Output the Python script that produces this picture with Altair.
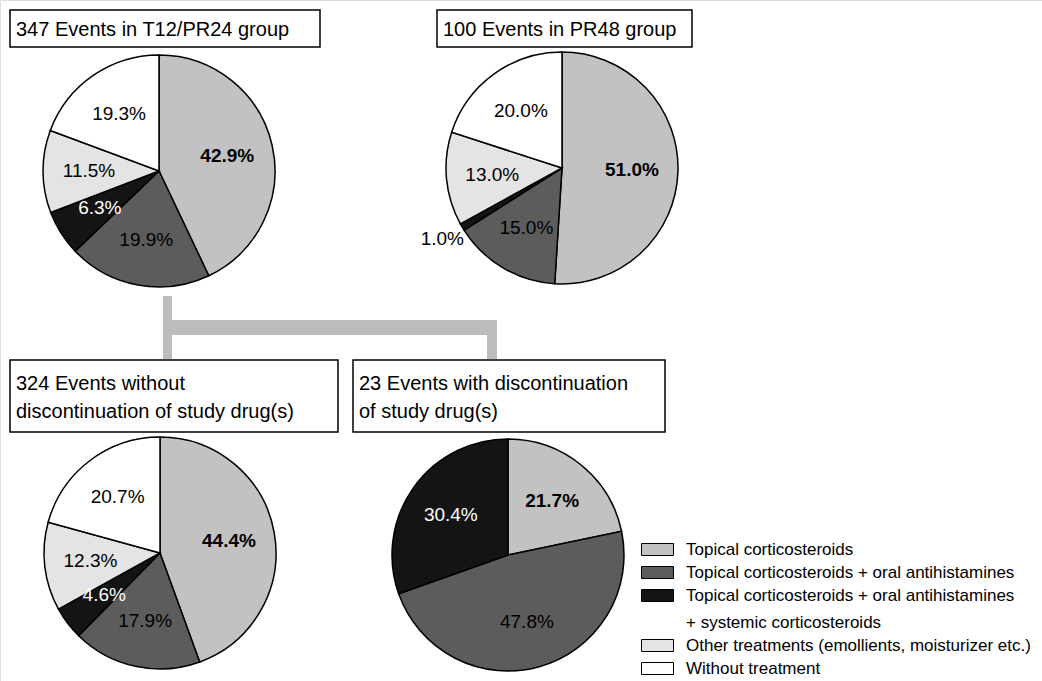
import altair as alt
import pandas as pd

# Treatment categories, in the order slices are drawn clockwise from 12 o'clock
CATEGORIES = [
    "Topical corticosteroids",
    "Topical corticosteroids + oral antihistamines",
    "Topical corticosteroids + oral antihistamines + systemic corticosteroids",
    "Other treatments (emollients, moisturizer etc.)",
    "Without treatment",
]
COLORS = ["#c2c2c2", "#5c5c5c", "#141414", "#e4e4e4", "#ffffff"]

# Share of events (%) per treatment category; None = category absent
T12_PR24 = [42.9, 19.9, 6.3, 11.5, 19.3]
PR48 = [51.0, 15.0, 1.0, 13.0, 20.0]
NO_DISCONTINUATION = [44.4, 17.9, 4.6, 12.3, 20.7]
DISCONTINUATION = [21.7, 47.8, 30.4, None, None]

TITLE_T12 = ["347 Events in T12/PR24 group"]
TITLE_PR48 = ["100 Events in PR48 group"]
TITLE_NO_DISC = ["324 Events without", "discontinuation of study drug(s)"]
TITLE_DISC = ["23 Events with discontinuation", "of study drug(s)"]

FONT = "Liberation Sans"
R = 116          # pie radius
LABEL_R = 70     # radius of in-slice labels
OUTER_LABEL_R = 139

color_scale = alt.Scale(domain=CATEGORIES, range=COLORS)
# Wide rectangular swatch: the path reaches past the unit box so the
# nominal symbol size (and so the row height) stays small.
legend = alt.Legend(
    orient="none", legendX=649, legendY=541, title=None, padding=0,
    symbolType="M-2.667,-1H2.667V1H-2.667Z", symbolSize=144,
    symbolStrokeColor="black", symbolStrokeWidth=1, symbolOpacity=1,
    labelFont=FONT, labelFontSize=17, labelColor="black", labelOffset=20,
    labelLimit=600, rowPadding=5,
    labelExpr="split(replace(datum.label, ' + systemic', '|\u00a0+ systemic'), '|')",
)

blank = alt.Data(values=[{}])


def pie(values, cx, cy):
    df = pd.DataFrame({"treatment": CATEGORIES, "rank": range(len(CATEGORIES)), "pct": values})
    df = df.dropna()
    base = alt.Chart(df).transform_calculate(
        label="format(datum.pct, '.1f') + '%'"
    ).encode(
        theta=alt.Theta("pct:Q", stack=True),
        order=alt.Order("rank:Q"),
        x=alt.value(cx),
        y=alt.value(cy),
    )
    arcs = base.mark_arc(outerRadius=R, stroke="black", strokeWidth=1.5).encode(
        color=alt.Color("treatment:N", scale=color_scale, legend=legend)
    )
    ink = alt.condition("datum.rank == 2", alt.value("white"), alt.value("black"))
    inner = base.mark_text(radius=LABEL_R, fontSize=19, font=FONT).encode(
        text="label:N", color=ink,
        opacity=alt.condition("datum.pct >= 2 && datum.rank != 0", alt.value(1), alt.value(0)),
    )
    inner_bold = base.mark_text(radius=LABEL_R, fontSize=19, font=FONT, fontWeight="bold").encode(
        text="label:N", color=ink,
        opacity=alt.condition("datum.rank == 0", alt.value(1), alt.value(0)),
    )
    outer = base.mark_text(radius=OUTER_LABEL_R, fontSize=19, font=FONT).encode(
        text="label:N", color=alt.value("black"),
        opacity=alt.condition("datum.pct < 2", alt.value(1), alt.value(0)),
    )
    return [arcs, inner, inner_bold, outer]


def title_box(lines, x0, x1, y0, y1, baseline_y):
    frame = alt.Chart(blank).mark_rect(fill="white", stroke="black", strokeWidth=1.5).encode(
        x=alt.value(x0), x2=alt.value(x1), y=alt.value(y0), y2=alt.value(y1)
    )
    text = alt.Chart(blank).mark_text(
        align="left", baseline="alphabetic", fontSize=20, font=FONT, lineHeight=28, color="black"
    ).encode(x=alt.value(x0 + 6), y=alt.value(baseline_y), text=alt.value(lines))
    return [frame, text]


def bar(x0, x1, y0, y1):
    return alt.Chart(blank).mark_rect(fill="#bcbcbc").encode(
        x=alt.value(x0), x2=alt.value(x1), y=alt.value(y0), y2=alt.value(y1)
    )


# Grey connector from the T12/PR24 pie to its two sub-groups
connector = [
    bar(163, 172, 296, 359),
    bar(163, 497, 320, 335),
    bar(487, 497, 320, 359),
]

layers = (
    connector
    + title_box(TITLE_T12, 10, 320, 10, 47, 36)
    + title_box(TITLE_PR48, 437, 692, 10, 47, 36)
    + title_box(TITLE_NO_DISC, 10, 338, 360, 432, 390)
    + title_box(TITLE_DISC, 353, 665, 360, 432, 390)
    + pie(T12_PR24, 159, 171)
    + pie(PR48, 562, 168)
    + pie(NO_DISCONTINUATION, 160, 553)
    + pie(DISCONTINUATION, 508, 555)
)

chart = (
    alt.layer(*layers)
    .resolve_scale(theta="independent")
    .properties(width=1042, height=681, padding=0, autosize="none", background="white")
    .configure_view(strokeWidth=0)
    .configure(font=FONT, style={"guide-label": {"lineHeight": 27}})
)

chart.save("out.html", embed_options={"renderer": "svg", "actions": False})
